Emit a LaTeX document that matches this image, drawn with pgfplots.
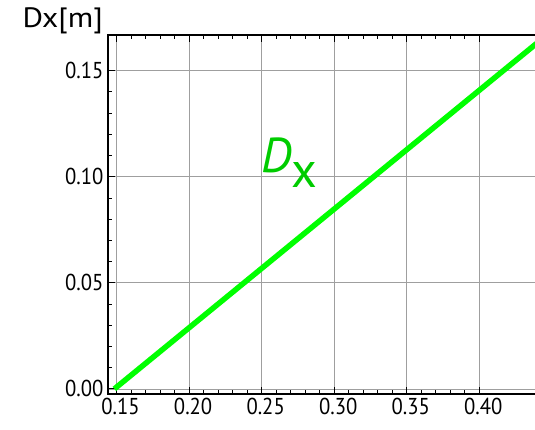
\documentclass[border=0pt]{standalone}
\usepackage{pgfplots}
\pgfplotsset{compat=1.18}
\usepackage{fontspec}
\setmainfont{PT Sans}
\newfontfamily\tickfont{PT Sans}[FakeStretch=0.9]
\definecolor{lgreen}{RGB}{0,255,0}
\definecolor{tgreen}{RGB}{0,204,0}
\begin{document}
\begin{tikzpicture}[x=1pt,y=1pt]
\path[use as bounding box] (0,0) rectangle (535,429);
\begin{axis}[
  at={(108pt,35pt)}, anchor=south west,
  scale only axis, width=428.5pt, height=359pt,
  xmin=0.1441, xmax=0.4394, ymin=-0.0024, ymax=0.1668,
  xtick={0.15,0.20,0.25,0.30,0.35,0.40},
  ytick={0,0.05,0.10,0.15},
  minor x tick num=4, minor y tick num=4,
  xtick pos=both, ytick pos=left,
  tick align=inside,
  major tick length=7pt, minor tick length=4pt,
  tick style={black, line width=0.9pt},
  grid=major,
  major grid style={gray!75, line width=0.8pt},
  axis line style={line width=2pt},
  /pgf/number format/assume math mode=true,
  /pgf/number format/.cd, fixed, fixed zerofill, precision=2, /pgfplots/.cd,
  ticklabel style={font=\tickfont\fontsize{23}{23}\selectfont},
  yticklabel style={xshift=-1pt},
  xticklabel style={xshift=4pt, yshift=-1pt},
  clip=true,
]
\addplot[lgreen, line width=5.5pt] coordinates {(0.1485,0) (0.4394,0.1628)};
\node[anchor=base west, text=tgreen, inner sep=0pt] at (axis cs:0.2495,0.102)
  {\fontsize{49}{49}\selectfont\textit{D}\raisebox{-15pt}{\fontsize{50}{50}\selectfont x}};
\end{axis}
\node[anchor=base east, inner sep=0pt] at (103,401) {\scalebox{1.12}[1]{\fontsize{28}{28}\selectfont Dx[m]}};
\end{tikzpicture}
\end{document}
